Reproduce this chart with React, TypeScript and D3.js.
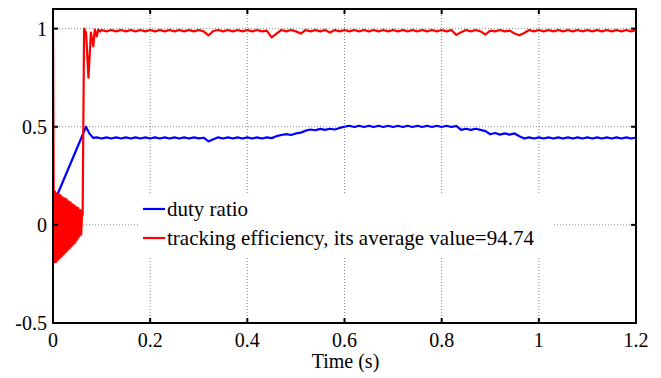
import React from "react";
import * as d3 from "d3";

const xTicks = [0, 0.2, 0.4, 0.6, 0.8, 1, 1.2];
const yTicks = [-0.5, 0, 0.5, 1];
const xTickLabels = ["0", "0.2", "0.4", "0.6", "0.8", "1", "1.2"];
const yTickLabels = ["-0.5", "0", "0.5", "1"];
const xLabel = "Time (s)";
const legendLabels = ["duty ratio", "tracking efficiency, its average value=94.74"];
const seriesColors = ["#0000ff", "#ff0000"];

// duty ratio [time, value]
const dutyRatio: [number, number][] = [
  [0, 0.1], [0.002, 0.12], [0.01, 0.16], [0.068, 0.5], [0.075, 0.465], [0.083, 0.443],
  [0.09, 0.446], [0.1, 0.44], [0.11, 0.446], [0.12, 0.44], [0.13, 0.446], [0.14, 0.44],
  [0.15, 0.446], [0.16, 0.44], [0.17, 0.446], [0.18, 0.44], [0.19, 0.446], [0.2, 0.44],
  [0.21, 0.446], [0.22, 0.44], [0.23, 0.446], [0.24, 0.44], [0.25, 0.446], [0.26, 0.44],
  [0.27, 0.446], [0.28, 0.44], [0.29, 0.446], [0.3, 0.441], [0.31, 0.444], [0.32, 0.425],
  [0.33, 0.436], [0.34, 0.446], [0.35, 0.44], [0.36, 0.446], [0.37, 0.44], [0.38, 0.446],
  [0.39, 0.44], [0.4, 0.446], [0.41, 0.44], [0.42, 0.446], [0.43, 0.44], [0.44, 0.446],
  [0.45, 0.442], [0.46, 0.452], [0.47, 0.458], [0.48, 0.462], [0.49, 0.458], [0.5, 0.466],
  [0.51, 0.47], [0.52, 0.48], [0.53, 0.486], [0.54, 0.482], [0.55, 0.489], [0.56, 0.484],
  [0.57, 0.49], [0.58, 0.486], [0.59, 0.494], [0.6, 0.5], [0.61, 0.505], [0.62, 0.499],
  [0.63, 0.505], [0.64, 0.499], [0.65, 0.505], [0.66, 0.499], [0.67, 0.505], [0.68, 0.499],
  [0.69, 0.505], [0.7, 0.499], [0.71, 0.505], [0.72, 0.499], [0.73, 0.505], [0.74, 0.499],
  [0.75, 0.505], [0.76, 0.499], [0.77, 0.505], [0.78, 0.499], [0.79, 0.505], [0.8, 0.499],
  [0.81, 0.505], [0.82, 0.499], [0.83, 0.504], [0.84, 0.484], [0.85, 0.49], [0.86, 0.484],
  [0.87, 0.49], [0.88, 0.484], [0.89, 0.478], [0.9, 0.462], [0.91, 0.468], [0.92, 0.46],
  [0.93, 0.466], [0.94, 0.46], [0.95, 0.466], [0.96, 0.452], [0.97, 0.44], [0.98, 0.446],
  [0.99, 0.44], [1.0, 0.446], [1.01, 0.44], [1.02, 0.446], [1.03, 0.44], [1.04, 0.446],
  [1.05, 0.44], [1.06, 0.446], [1.07, 0.44], [1.08, 0.446], [1.09, 0.44], [1.1, 0.446],
  [1.11, 0.44], [1.12, 0.446], [1.13, 0.44], [1.14, 0.446], [1.15, 0.44], [1.16, 0.446],
  [1.17, 0.44], [1.18, 0.446], [1.19, 0.44], [1.2, 0.445],
];

// tracking efficiency [time, value]
const trackingEfficiency: [number, number][] = [
  [0, 1.0], [0.002, -0.19], [0.004, 0.17], [0.006, -0.19], [0.008, 0.16], [0.01, -0.18],
  [0.012, 0.155], [0.014, -0.17], [0.016, 0.15], [0.018, -0.16], [0.02, 0.14], [0.022, -0.15],
  [0.024, 0.135], [0.026, -0.14], [0.028, 0.13], [0.03, -0.13], [0.032, 0.12], [0.034, -0.12],
  [0.036, 0.115], [0.038, -0.11], [0.04, 0.105], [0.042, -0.1], [0.044, 0.1], [0.046, -0.09],
  [0.048, 0.09], [0.05, -0.075], [0.052, 0.085], [0.054, -0.06], [0.056, 0.075], [0.058, -0.05],
  [0.06, 0.07], [0.061, 0.05], [0.064, 1.0], [0.068, 0.98], [0.073, 0.75], [0.078, 0.98],
  [0.083, 0.91], [0.086, 0.995], [0.09, 0.96], [0.093, 0.995], [0.097, 0.985],
  [0.1, 0.993], [0.11, 0.986], [0.12, 0.993], [0.13, 0.986], [0.14, 0.993], [0.15, 0.986],
  [0.16, 0.993], [0.17, 0.986], [0.18, 0.993], [0.19, 0.986], [0.2, 0.993], [0.21, 0.986],
  [0.22, 0.993], [0.23, 0.986], [0.24, 0.993], [0.25, 0.986], [0.26, 0.993], [0.27, 0.986],
  [0.28, 0.993], [0.29, 0.986], [0.3, 0.993], [0.31, 0.986], [0.32, 0.966], [0.33, 0.988],
  [0.34, 0.993], [0.35, 0.986], [0.36, 0.993], [0.37, 0.986], [0.38, 0.993], [0.39, 0.986],
  [0.4, 0.993], [0.41, 0.986], [0.42, 0.993], [0.43, 0.986], [0.44, 0.99], [0.45, 0.955],
  [0.46, 0.975], [0.47, 0.993], [0.48, 0.986], [0.49, 0.993], [0.5, 0.986], [0.51, 0.975],
  [0.52, 0.993], [0.53, 0.986], [0.54, 0.993], [0.55, 0.986], [0.56, 0.993], [0.57, 0.98],
  [0.58, 0.993], [0.59, 0.986], [0.6, 0.993], [0.61, 0.986], [0.62, 0.993], [0.63, 0.986],
  [0.64, 0.993], [0.65, 0.986], [0.66, 0.993], [0.67, 0.986], [0.68, 0.993], [0.69, 0.986],
  [0.7, 0.993], [0.71, 0.986], [0.72, 0.993], [0.73, 0.986], [0.74, 0.993], [0.75, 0.986],
  [0.76, 0.993], [0.77, 0.986], [0.78, 0.993], [0.79, 0.986], [0.8, 0.993], [0.81, 0.986],
  [0.82, 0.993], [0.83, 0.968], [0.84, 0.982], [0.85, 0.993], [0.86, 0.986], [0.87, 0.993],
  [0.88, 0.986], [0.89, 0.97], [0.9, 0.99], [0.91, 0.986], [0.92, 0.993], [0.93, 0.986],
  [0.94, 0.99], [0.95, 0.975], [0.96, 0.966], [0.97, 0.978], [0.98, 0.993], [0.99, 0.986],
  [1.0, 0.993], [1.01, 0.986], [1.02, 0.993], [1.03, 0.986], [1.04, 0.993], [1.05, 0.986],
  [1.06, 0.993], [1.07, 0.986], [1.08, 0.993], [1.09, 0.986], [1.1, 0.993], [1.11, 0.986],
  [1.12, 0.993], [1.13, 0.986], [1.14, 0.993], [1.15, 0.986], [1.16, 0.993], [1.17, 0.986],
  [1.18, 0.993], [1.19, 0.986], [1.2, 0.992],
];

const W = 661;
const H = 378;
const left = 53;
const right = 636;
const top = 9;
const bottom = 323;
const FONT = '"Liberation Serif", "Times New Roman", Times, "DejaVu Serif", serif';
const textStyle = { fontFamily: FONT };

export default function App() {
  const x = d3.scaleLinear().domain([0, 1.2]).range([left, right]);
  const y = d3.scaleLinear().domain([-0.5, 1.1]).range([bottom, top]);
  const line = d3
    .line<[number, number]>()
    .x((d) => x(d[0]))
    .y((d) => y(d[1]));
  const tickLen = 5;
  const gridColor = "#8a8a8a";

  return (
    <svg
      width={W}
      height={H}
      style={{ position: "absolute", left: 0, top: 0, background: "#fff" }}
    >
      <rect x={0} y={0} width={W} height={H} fill="#fff" />
      {/* grid */}
      {xTicks.slice(1, -1).map((t) => (
        <line
          key={"gx" + t}
          x1={x(t)}
          x2={x(t)}
          y1={top}
          y2={bottom}
          stroke={gridColor}
          strokeWidth={1}
          strokeDasharray="1,2"
        />
      ))}
      {yTicks.slice(1).map((t) => (
        <line
          key={"gy" + t}
          x1={left}
          x2={right}
          y1={y(t)}
          y2={y(t)}
          stroke={gridColor}
          strokeWidth={1}
          strokeDasharray="1,2"
        />
      ))}
      {/* series */}
      <path
        d={line(dutyRatio) || ""}
        fill="none"
        stroke={seriesColors[0]}
        strokeWidth={2.2}
        strokeLinejoin="round"
      />
      <path
        d={line(trackingEfficiency) || ""}
        fill="none"
        stroke={seriesColors[1]}
        strokeWidth={2.2}
        strokeLinejoin="round"
      />
      {/* legend */}
      <rect x={138} y={193} width={415} height={64} fill="#fff" />
      {legendLabels.map((lab, i) => {
        const ly = 209 + i * 29;
        return (
          <g key={lab}>
            <line x1={143} x2={165} y1={ly} y2={ly} stroke={seriesColors[i]} strokeWidth={2.2} />
            <text x={167} y={ly + 7} fontSize={21} fill="#000" style={textStyle}>
              {lab}
            </text>
          </g>
        );
      })}
      {/* box */}
      <rect
        x={left}
        y={top}
        width={right - left}
        height={bottom - top}
        fill="none"
        stroke="#000"
        strokeWidth={2}
      />
      {/* ticks */}
      {xTicks.map((t) => (
        <g key={"tx" + t}>
          <line x1={x(t)} x2={x(t)} y1={bottom} y2={bottom - tickLen} stroke="#000" strokeWidth={2} />
          <line x1={x(t)} x2={x(t)} y1={top} y2={top + tickLen} stroke="#000" strokeWidth={2} />
        </g>
      ))}
      {yTicks.map((t) => (
        <g key={"ty" + t}>
          <line x1={left} x2={left + tickLen} y1={y(t)} y2={y(t)} stroke="#000" strokeWidth={2} />
          <line x1={right} x2={right - tickLen} y1={y(t)} y2={y(t)} stroke="#000" strokeWidth={2} />
        </g>
      ))}
      {/* tick labels */}
      {xTicks.map((t, i) => (
        <text key={"lx" + t} x={x(t)} y={347} fontSize={20} textAnchor="middle" fill="#000" style={textStyle}>
          {xTickLabels[i]}
        </text>
      ))}
      {yTicks.map((t, i) => (
        <text key={"ly" + t} x={47} y={y(t) + 7} fontSize={20} textAnchor="end" fill="#000" style={textStyle}>
          {yTickLabels[i]}
        </text>
      ))}
      <text x={(left + right) / 2 + 1} y={368} fontSize={20} textAnchor="middle" fill="#000" style={textStyle}>
        {xLabel}
      </text>
    </svg>
  );
}
